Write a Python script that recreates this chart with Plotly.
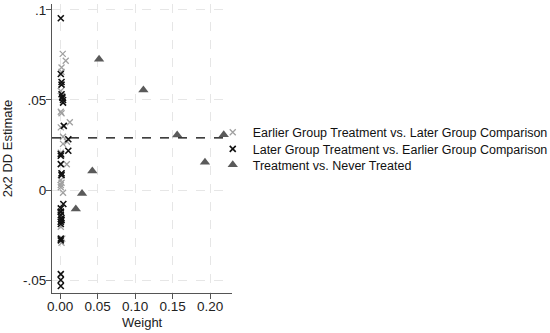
import plotly.graph_objects as go

# Earlier Group Treatment vs. Later Group Comparison (light grey x)
early_w = [0.0036, 0.0076, 0.002, 0.002, 0.001, 0.001, 0.002, 0.013, 0.001, 0.004, 0.0093, 0.004,
           0.001, 0.002, 0.009, 0.002, 0.001, 0.002, 0.001, 0.001, 0.004, 0.001, 0.001, 0.003, 0.002]
early_y = [0.0756, 0.0718, 0.068, 0.0656, 0.055, 0.0435, 0.0426, 0.0376, 0.0348, 0.0296, 0.0268, 0.0256,
           0.0207, 0.0197, 0.0143, 0.009, 0.0056, 0.004, 0.0028, 0.0015, -0.0015, -0.0176, -0.0204, -0.027, -0.0293]

# Later Group Treatment vs. Earlier Group Comparison (black x)
later_w = [0.001, 0.001, 0.002, 0.002, 0.002, 0.003, 0.003, 0.004, 0.004, 0.005, 0.011, 0.011, 0.001,
           0.001, 0.001, 0.002, 0.002, 0.0044, 0.001, 0.001, 0.001, 0.002, 0.002, 0.001, 0.001, 0.001,
           0.001, 0.001, 0.001, 0.001, 0.001]
later_y = [0.0954, 0.0644, 0.060, 0.0585, 0.0532, 0.0518, 0.0513, 0.050, 0.0485, 0.0356, 0.0282, 0.0218,
           0.020, 0.019, 0.0144, 0.0093, 0.0083, -0.0078, -0.0102, -0.0122, -0.0139, -0.0157, -0.0167,
           -0.0176, -0.0189, -0.027, -0.028, -0.0467, -0.050, -0.0533, -0.012]

# Treatment vs. Never Treated (triangles)
never_w = [0.052, 0.111, 0.156, 0.218, 0.193, 0.043, 0.0293, 0.021]
never_y = [0.0726, 0.0556, 0.0306, 0.0307, 0.0154, 0.0106, -0.002, -0.0106]

overall_dd = 0.029

y_tickvals = [-0.05, 0, 0.05, 0.1]
y_ticktext = ["-.05", "0", ".05", ".1"]
x_tickvals = [0.0, 0.05, 0.10, 0.15, 0.20]
x_ticktext = ["0.00", "0.05", "0.10", "0.15", "0.20"]

FONT = "Liberation Sans, Arial, sans-serif"
LEG_FONT = dict(family=FONT, size=12.5, color="#111111")

fig = go.Figure()
fig.add_trace(go.Scatter(
    x=early_w, y=early_y, mode="markers", legend="legend",
    name="Earlier Group Treatment vs. Later Group Comparison",
    marker=dict(symbol="x-thin-open", size=6, color="#a0a0a0", line=dict(width=1.3, color="#a0a0a0")),
))
fig.add_trace(go.Scatter(
    x=later_w, y=later_y, mode="markers", legend="legend2",
    name="Later Group Treatment vs. Earlier Group Comparison",
    marker=dict(symbol="x-thin-open", size=6, color="#111111", line=dict(width=1.6, color="#111111")),
))
fig.add_trace(go.Scatter(
    x=never_w, y=never_y, mode="markers", legend="legend3",
    name="Treatment vs. Never Treated",
    marker=dict(symbol="triangle-up", size=9, color="#5a5a5a"),
))

fig.add_hline(y=overall_dd, line=dict(color="black", width=1.3, dash="dash"))

leg_common = dict(x=0.893, xanchor="left", yanchor="middle", font=LEG_FONT,
                  itemwidth=30, bgcolor="rgba(0,0,0,0)")

fig.update_layout(
    width=550, height=333,
    margin=dict(l=52, r=318, t=4, b=40, autoexpand=False),
    paper_bgcolor="white", plot_bgcolor="white",
    font=dict(family=FONT, color="#222222", size=13),
    showlegend=True,
    legend=dict(y=0.5547, **leg_common),
    legend2=dict(y=0.4972, **leg_common),
    legend3=dict(y=0.4429, **leg_common),
    annotations=[
        dict(text="Weight", xref="paper", yref="paper", x=0.5, y=-0.1038,
             xanchor="center", yanchor="middle", showarrow=False,
             font=dict(family=FONT, size=13, color="#222222")),
        dict(text="2x2 DD Estimate", xref="paper", yref="paper", x=-0.243, y=0.502,
             xanchor="center", yanchor="middle", showarrow=False, textangle=-90,
             font=dict(family=FONT, size=13, color="#222222")),
    ],
)
fig.update_xaxes(
    range=[-0.0107, 0.229], tickvals=x_tickvals, ticktext=x_ticktext,
    showline=True, linecolor="#555555", linewidth=1.2,
    ticks="outside", ticklen=5, tickcolor="#555555",
    showgrid=True, gridcolor="#e6e6e6", griddash="dash", gridwidth=1,
    zeroline=False, tickfont=dict(size=13.5), automargin=False,
    ticklabelstandoff=-4,
)
fig.update_yaxes(
    range=[-0.0572, 0.1033], tickvals=y_tickvals, ticktext=y_ticktext,
    showline=True, linecolor="#555555", linewidth=1.2,
    ticks="outside", ticklen=5, tickcolor="#555555",
    showgrid=True, gridcolor="#e6e6e6", griddash="dash", gridwidth=1,
    zeroline=False, tickfont=dict(size=13.5), automargin=False,
    ticklabelstandoff=-3,
)

fig.write_html("out.html", config={"displayModeBar": False},
               post_script="document.body.style.margin='0';")
